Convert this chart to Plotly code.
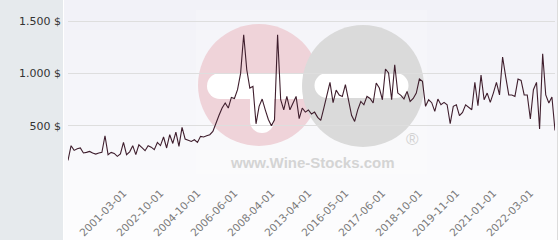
import plotly.graph_objects as go

# ---------------- data ----------------
dates = [
    "1999-09-01", "1999-10-01", "1999-11-01", "1999-12-01", "2000-01-01", "2000-02-01",
    "2000-03-01", "2000-04-01", "2000-05-01", "2000-06-01", "2000-07-01", "2000-08-01",
    "2000-09-01", "2000-10-01", "2000-11-01", "2000-12-01", "2001-01-01", "2001-02-01",
    "2001-03-01", "2001-05-01", "2001-06-01", "2001-08-01", "2001-09-01", "2001-11-01",
    "2001-12-01", "2002-02-01", "2002-03-01", "2002-05-01", "2002-06-01", "2002-08-01",
    "2002-10-01", "2002-12-01", "2003-02-01", "2003-04-01", "2003-06-01", "2003-08-01",
    "2003-10-01", "2003-12-01", "2004-02-01", "2004-04-01", "2004-06-01", "2004-08-01",
    "2004-10-01", "2004-12-01", "2005-01-01", "2005-03-01", "2005-04-01", "2005-06-01",
    "2005-07-01", "2005-09-01", "2005-10-01", "2005-12-01", "2006-02-01", "2006-04-01",
    "2006-06-01", "2006-08-01", "2006-10-01", "2006-11-01", "2007-01-01", "2007-03-01",
    "2007-05-01", "2007-06-01", "2007-08-01", "2007-10-01", "2007-12-01", "2008-02-01",
    "2008-04-01", "2008-09-01", "2009-02-01", "2009-07-01", "2009-12-01", "2010-05-01",
    "2010-10-01", "2011-03-01", "2011-08-01", "2012-01-01", "2012-06-01", "2012-11-01",
    "2013-04-01", "2013-07-01", "2013-10-01", "2014-01-01", "2014-04-01", "2014-07-01",
    "2014-10-01", "2015-01-01", "2015-04-01", "2015-07-01", "2015-10-01", "2016-02-01",
    "2016-05-01", "2016-06-01", "2016-07-01", "2016-08-01", "2016-09-01", "2016-10-01",
    "2016-11-01", "2016-12-01", "2017-01-01", "2017-02-01", "2017-03-01", "2017-05-01",
    "2017-06-01", "2017-07-01", "2017-08-01", "2017-10-01", "2017-11-01", "2017-12-01",
    "2018-01-01", "2018-03-01", "2018-04-01", "2018-05-01", "2018-07-01", "2018-08-01",
    "2018-10-01", "2018-11-01", "2018-12-01", "2019-01-01", "2019-02-01", "2019-03-01",
    "2019-04-01", "2019-05-01", "2019-06-01", "2019-08-01", "2019-09-01", "2019-10-01",
    "2019-11-01", "2019-12-01", "2020-01-01", "2020-02-01", "2020-03-01", "2020-05-01",
    "2020-06-01", "2020-07-01", "2020-08-01", "2020-09-01", "2020-10-01", "2020-12-01",
    "2021-01-01", "2021-02-01", "2021-03-01", "2021-04-01", "2021-05-01", "2021-06-01",
    "2021-08-01", "2021-09-01", "2021-10-01", "2021-11-01", "2021-12-01", "2022-01-01",
    "2022-03-01", "2022-04-01", "2022-05-01", "2022-06-01", "2022-07-01", "2022-08-01",
    "2022-09-01", "2022-10-01", "2022-11-01",
]

prices = [
    168, 309, 264, 280, 287, 239, 245, 254, 239, 229,
    239, 245, 404, 223, 245, 235, 207, 230, 340, 223,
    250, 309, 223, 318, 290, 261, 309, 295, 271, 340,
    310, 392, 287, 414, 330, 439, 302, 484, 373, 360,
    350, 366, 340, 398, 392, 404, 414, 445, 530, 600,
    669, 717, 669, 770, 760, 844, 1000, 1370, 1035, 860,
    876, 518, 685, 755, 652, 560, 500, 557, 1370, 748,
    652, 780, 652, 720, 780, 568, 669, 630, 650, 612,
    630, 580, 550, 669, 800, 914, 720, 840, 794, 780,
    892, 748, 600, 541, 652, 732, 700, 780, 760, 717,
    908, 860, 748, 1042, 1004, 748, 1083, 812, 790, 755,
    828, 732, 760, 812, 946, 924, 685, 748, 720, 637,
    755, 700, 723, 700, 519, 685, 700, 596, 627, 700,
    680, 652, 914, 691, 983, 748, 812, 723, 812, 914,
    794, 1157, 970, 794, 794, 780, 946, 933, 794, 794,
    564, 844, 914, 468, 1188, 794, 717, 774, 455,
]

tick_dates = [
    "2001-03-01", "2002-10-01", "2004-10-01", "2006-06-01", "2008-04-01", "2013-04-01",
    "2016-05-01", "2017-06-01", "2018-10-01", "2019-11-01", "2021-01-01", "2022-03-01",
]

y_ticks = [0, 500, 1000, 1500]
y_tick_labels = ["", "500 $", "1.000 $", "1.500 $"]

# ---------------- layout helpers ----------------
W, H = 560, 240
ML, MR, MT, MB = 68, 5, 5, 62
PW, PH = W - ML - MR, H - MT - MB


def px(x):
    return (x - ML) / PW


def py(y):
    return (H - MB - y) / PH


def rect(x0, y0, x1, y1, color, layer="below", opacity=1.0):
    return dict(type="rect", xref="paper", yref="paper",
                x0=px(x0), x1=px(x1), y0=py(y1), y1=py(y0),
                fillcolor=color, line=dict(width=0), layer=layer, opacity=opacity)


def circle(cx, cy, r, color, layer="below"):
    return dict(type="circle", xref="paper", yref="paper",
                x0=px(cx - r), x1=px(cx + r), y0=py(cy + r), y1=py(cy - r),
                fillcolor=color, line=dict(width=0), layer=layer)


shapes = []
# left panel
shapes.append(rect(0, 0, 63, H, "#e6eaed"))
# plot background gradient (top lavender -> bottom white)
n = 24
for i in range(n):
    t = i / (n - 1)
    r_ = int(242 + (253 - 242) * t)
    g_ = int(242 + (253 - 242) * t)
    b_ = int(248 + (254 - 248) * t)
    y0 = H * i / n
    y1 = H * (i + 1) / n + 0.5
    shapes.append(rect(63.5, y0, 557.5, y1, f"rgb({r_},{g_},{b_})"))
# separators
shapes.append(dict(type="line", xref="paper", yref="paper", x0=px(63.5), x1=px(63.5),
                   y0=py(H), y1=py(0), line=dict(color="#ffffff", width=1), layer="below"))
shapes.append(dict(type="line", xref="paper", yref="paper", x0=px(557.5), x1=px(557.5),
                   y0=py(H), y1=py(0), line=dict(color="#dcdcdc", width=1), layer="below"))

# watermark
shapes.append(rect(196, 10, 427, 174, "#ffffff", opacity=0.2))
shapes.append(circle(259, 85, 61, "#efd3d9"))
shapes.append(rect(220, 73, 303, 99, "#ffffff"))
shapes.append(circle(220, 86, 13, "#ffffff"))
shapes.append(rect(250, 90, 274, 121, "#ffffff"))
shapes.append(circle(262, 121, 12, "#ffffff"))
shapes.append(circle(363, 86, 61, "#dadada"))
shapes.append(rect(327, 73, 396, 98, "#ffffff"))
shapes.append(circle(327, 85.5, 12.5, "#ffffff"))
shapes.append(circle(396, 85.5, 12.5, "#ffffff"))

annotations = [
    dict(text="<b>www.Wine-Stocks.com</b>", xref="paper", yref="paper",
         x=px(312), y=py(162), xanchor="center", yanchor="middle", showarrow=False,
         font=dict(family="Liberation Sans, Arial, sans-serif", size=15, color="#d4d4d4")),
    dict(text="®", xref="paper", yref="paper",
         x=px(412), y=py(139), xanchor="center", yanchor="middle", showarrow=False,
         font=dict(family="Liberation Sans, Arial, sans-serif", size=17, color="#d2d2d2")),
]

fig = go.Figure()
fig.add_trace(go.Scatter(
    x=dates, y=prices, mode="lines",
    line=dict(color="#3f1e2d", width=1.1),
    hoverinfo="skip", showlegend=False,
))

fig.update_layout(
    width=W, height=H,
    margin=dict(l=ML, r=MR, t=MT, b=MB, pad=0, autoexpand=False),
    paper_bgcolor="#ffffff",
    plot_bgcolor="rgba(0,0,0,0)",
    shapes=shapes,
    annotations=annotations,
    showlegend=False,
    font=dict(family="DejaVu Sans, sans-serif"),
    xaxis=dict(
        type="category",
        range=[0, len(dates) - 1],
        tickmode="array",
        tickvals=tick_dates,
        ticktext=tick_dates,
        tickangle=-45,
        tickfont=dict(family="DejaVu Sans, sans-serif", size=10.5, color="#7a7a7a"),
        showgrid=False,
        zeroline=False,
        showline=False,
        ticks="",
        ticklabelstandoff=6,
        automargin=False,
    ),
    yaxis=dict(
        range=[0, 1654],
        tickmode="array",
        tickvals=y_ticks,
        ticktext=y_tick_labels,
        tickfont=dict(family="DejaVu Sans, sans-serif", size=11, color="#333333"),
        showgrid=True,
        gridcolor="#dedede",
        gridwidth=1,
        zeroline=False,
        showline=False,
        ticks="",
        ticklabelstandoff=6,
        automargin=False,
    ),
)

fig.write_html("out.html")
